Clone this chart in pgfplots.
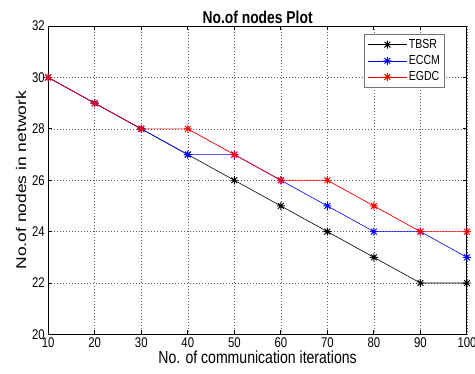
\documentclass[border=0pt]{standalone}
\usepackage{pgfplots}
\pgfplotsset{compat=1.18}
\usepackage{fontspec}
\setmainfont{Liberation Sans}
\newcommand{\vs}[1]{\scalebox{1}[1.24]{#1}}
\pgfdeclareplotmark{mstar}{%
  \pgfpathmoveto{\pgfqpoint{-\pgfplotmarksize}{0pt}}\pgfpathlineto{\pgfqpoint{\pgfplotmarksize}{0pt}}%
  \pgfpathmoveto{\pgfqpoint{0pt}{-\pgfplotmarksize}}\pgfpathlineto{\pgfqpoint{0pt}{\pgfplotmarksize}}%
  \pgfpathmoveto{\pgfqpoint{-0.72\pgfplotmarksize}{-0.72\pgfplotmarksize}}\pgfpathlineto{\pgfqpoint{0.72\pgfplotmarksize}{0.72\pgfplotmarksize}}%
  \pgfpathmoveto{\pgfqpoint{-0.72\pgfplotmarksize}{0.72\pgfplotmarksize}}\pgfpathlineto{\pgfqpoint{0.72\pgfplotmarksize}{-0.72\pgfplotmarksize}}%
  \pgfusepathqstroke}
\begin{document}
\begin{tikzpicture}
\begin{axis}[
  name=ax,
  scale only axis,
  width=417pt, height=307pt,
  xmin=10, xmax=100, ymin=20, ymax=32,
  xtick={10,20,...,100}, ytick={20,22,...,32},
  tick align=inside,
  major tick length=4pt,
  tick style={black, line width=1pt},
  grid=major,
  grid style={black!65, line width=0.5pt, dash pattern=on 0.7pt off 2.3pt},
  axis line style={black, line width=1pt},
  xticklabel={\vs{\pgfmathprintnumber[assume math mode=true]{\tick}}},
  yticklabel={\vs{\pgfmathprintnumber[assume math mode=true]{\tick}}},
  ticklabel style={font=\fontsize{11.3}{13}\selectfont},
  title={\vs{\bfseries No.of nodes Plot}},
  title style={font=\fontsize{13.8}{15}\selectfont, yshift=-7pt},
  xlabel={\vs{No. of communication iterations}},
  ylabel={\scalebox{1.24}[1]{No.of nodes in network}},
  label style={font=\fontsize{14}{16}\selectfont},
  xlabel style={yshift=4pt},
  ylabel style={yshift=-1pt},
  legend style={at={(0.755,0.975)}, anchor=north west, font=\fontsize{10.5}{12}\selectfont,
    draw=black!55, line width=1pt, inner xsep=3pt, inner ysep=3pt,
    row sep=1.5pt},
  legend cell align=left,
  legend image code/.code={
    \draw[mark repeat=2,mark phase=2,#1] plot coordinates {(0cm,0cm) (0.67cm,0cm) (1.34cm,0cm)};},
]
\addplot[black, line width=0.6pt, mark=mstar, mark size=4pt, mark options={line width=0.9pt}] coordinates {
(10,30) (20,29) (30,28) (40,27) (50,26) (60,25) (70,24) (80,23) (90,22) (100,22)};
\addlegendentry{\vs{TBSR}}
\addplot[blue, line width=0.6pt, mark=mstar, mark size=4pt, mark options={line width=0.9pt}] coordinates {
(10,30) (20,29) (30,28) (40,27) (50,27) (60,26) (70,25) (80,24) (90,24) (100,23)};
\addlegendentry{\vs{ECCM}}
\addplot[red, line width=0.7pt, mark=mstar, mark size=4pt, mark options={line width=0.9pt}] coordinates {
(10,30) (20,29) (30,28) (40,28) (50,27) (60,26) (70,26) (80,25) (90,24) (100,24)};
\addlegendentry{\vs{EGDC}}
\end{axis}
\pgfresetboundingbox
\path ([shift={(-48pt,-39pt)}]ax.south west) rectangle ([shift={(8pt,26pt)}]ax.north east);
\end{tikzpicture}
\end{document}
